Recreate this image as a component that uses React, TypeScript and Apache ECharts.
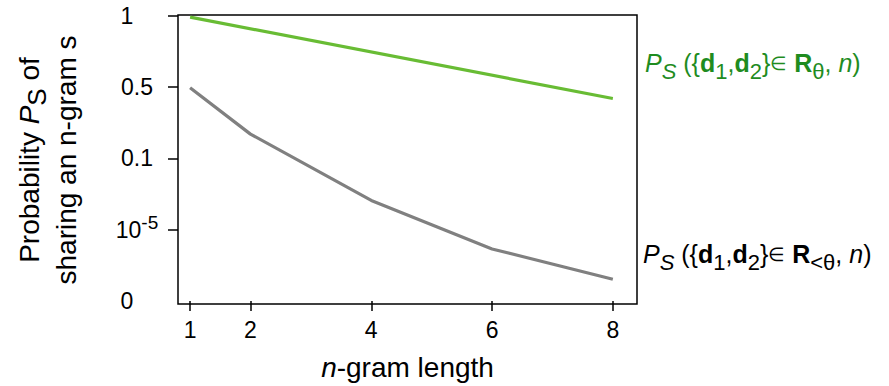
import React, { useEffect, useRef } from "react";
import * as echarts from "echarts";

// ---- data ----
const xTickValues = [1, 2, 4, 6, 8];
const yTickValues = [0, 1, 2, 3, 4];
const yTickLabels = ["0", "10^-5", "0.1", "0.5", "1"];
const greenN = [1, 8];
const greenY = [3.98, 2.84];
const grayN = [1, 2, 4, 6, 8];
const grayY = [2.99, 2.34, 1.41, 0.73, 0.305];

const FONT = "Liberation Sans, Arial, Helvetica, sans-serif";
const GREEN_LINE = "#68bc34";
const GREEN_TEXT = "#1f8c1f";
const GRAY_LINE = "#808080";

function legendRich(color: string) {
  const base = { fontFamily: FONT, fontSize: 25, color, lineHeight: 30 };
  return {
    it: { ...base, fontStyle: "italic" },
    sIt: { ...base, fontSize: 22, fontStyle: "italic", padding: [16, 0, 0, 0] },
    t: { ...base },
    b: { ...base, fontWeight: "bold" },
    sub: { ...base, fontSize: 22, padding: [16, 0, 0, 0] },
    small: { ...base, fontSize: 19 },
  };
}

function legendText(rel: string) {
  return (
    "{it|P}{sIt|S}{t| ({}{b|d}{sub|1}{t|,}{b|d}{sub|2}}{small|∈}{b| R}{sub|" +
    rel +
    "}{t|, }{it|n}{t|)}"
  );
}

export default function App() {
  const ref = useRef<HTMLDivElement>(null);
  useEffect(() => {
    if (!ref.current) return;
    const chart = echarts.init(ref.current, undefined, { renderer: "svg" });
    const greenData = greenN.map((n, i) => [n, greenY[i]]);
    const grayData = grayN.map((n, i) => [n, grayY[i]]);
    chart.setOption({
      animation: false,
      backgroundColor: "#ffffff",
      textStyle: { fontFamily: FONT },
      grid: {
        left: 178,
        top: 15,
        width: 459,
        height: 291,
        show: true,
        borderColor: "#000",
        borderWidth: 1.5,
        backgroundColor: "transparent",
      },
      xAxis: {
        type: "value",
        min: 0.8,
        max: 8.4,
        axisLine: { show: false },
        splitLine: { show: false },
        axisTick: {
          show: true,
          customValues: xTickValues,
          length: 10,
          lineStyle: { color: "#000", width: 1.5 },
        },
        axisLabel: {
          customValues: xTickValues,
          margin: 14,
          fontSize: 23,
          color: "#000",
          fontFamily: FONT,
        },
        name: "{i|n}{t|-gram length}",
        nameLocation: "middle",
        nameGap: 49,
        nameTextStyle: {
          rich: {
            i: { fontFamily: FONT, fontSize: 28, fontStyle: "italic", color: "#000" },
            t: { fontFamily: FONT, fontSize: 28, color: "#000" },
          },
        },
      },
      yAxis: {
        type: "value",
        min: -0.042,
        max: 4.01,
        axisLine: { show: false },
        splitLine: { show: false },
        axisTick: {
          show: true,
          customValues: [1, 2, 3, 4],
          length: 10,
          lineStyle: { color: "#000", width: 1.5 },
        },
        axisLabel: {
          customValues: yTickValues,
          margin: 41,
          align: "center",
          color: "#000",
          fontFamily: FONT,
          fontSize: 23,
          formatter: (v: number) => {
            const idx = yTickValues.indexOf(Math.round(v));
            const lab = yTickLabels[idx] ?? "";
            if (lab === "10^-5") return "{m|10}{sup|-5}";
            if (lab === "1" || lab === "0") return "{w|" + lab + "}";
            return "{m|" + lab + "}";
          },
          rich: {
            m: { fontFamily: FONT, fontSize: 23, color: "#000" },
            w: { fontFamily: FONT, fontSize: 23, color: "#000", padding: [0, 20, 0, 0] },
            sup: { fontFamily: FONT, fontSize: 19, color: "#000", padding: [0, 0, 14, 0] },
          },
        },
      },
      series: [
        {
          type: "line",
          data: greenData,
          showSymbol: false,
          lineStyle: { color: GREEN_LINE, width: 3.2 },
          itemStyle: { color: GREEN_LINE },
          z: 3,
        },
        {
          type: "line",
          data: grayData,
          showSymbol: false,
          lineStyle: { color: GRAY_LINE, width: 3.2 },
          itemStyle: { color: GRAY_LINE },
          z: 2,
        },
      ],
      graphic: [
        {
          type: "text",
          x: 48,
          y: 160,
          rotation: Math.PI / 2,
          style: {
            text:
              "{t|Probability }{it|P}{sub|S}{t| of}\n{t|sharing an n-gram s}",
            align: "center",
            verticalAlign: "middle",
            rich: {
              t: { fontFamily: FONT, fontSize: 28, color: "#000", lineHeight: 37 },
              it: { fontFamily: FONT, fontSize: 28, fontStyle: "italic", color: "#000", lineHeight: 37 },
              sub: { fontFamily: FONT, fontSize: 26, color: "#000", lineHeight: 37, padding: [14, 0, 0, 0] },
            },
          },
        },
        {
          type: "text",
          x: 645,
          y: 63,
          style: {
            text: legendText("θ"),
            align: "left",
            verticalAlign: "middle",
            fontFamily: FONT,
            fontSize: 25,
            lineHeight: 30,
            fill: GREEN_TEXT,
            rich: legendRich(GREEN_TEXT),
          },
        },
        {
          type: "text",
          x: 643,
          y: 254,
          style: {
            text: legendText("<θ"),
            align: "left",
            verticalAlign: "middle",
            fontFamily: FONT,
            fontSize: 25,
            lineHeight: 30,
            fill: "#000",
            rich: legendRich("#000"),
          },
        },
      ],
    });
    return () => chart.dispose();
  }, []);
  return (
    <div
      ref={ref}
      style={{ position: "fixed", left: 0, top: 0, width: 889, height: 386 }}
    />
  );
}
